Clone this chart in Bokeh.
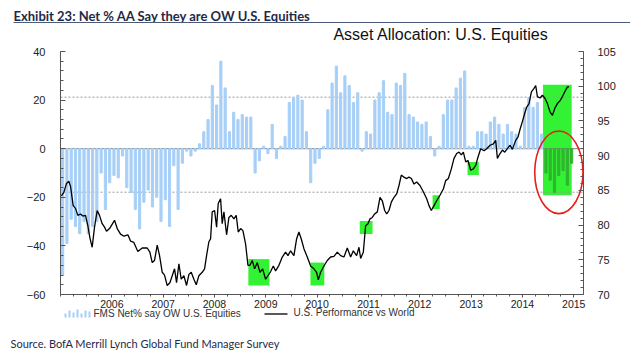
from bokeh.plotting import figure
from bokeh.models import (Range1d, LinearAxis, FixedTicker, ColumnDataSource,
                          Label, BoxAnnotation)
from bokeh.embed import file_html
from bokeh.resources import INLINE

# ---------------- data ----------------
START_YEAR = 2005
fms_net_ow = [
    -52, -39, -29, -32, -35, -30, -35, -32, -30, -10,
    -25, -14, -11, -12, -3, -16, -18, -25, -33, -22,
    -17, -24, -20, -30, -21, -32, -7, -25, -6, -1,
    -3, -1, 2, 7, 12, 26, 18, 36, 25, 7,
    15, 12, 14, 13, 13, -10, -5, 1, -2, 10,
    -4, 1, 5, 19, 21, 22, 20, 7, -14, -6,
    -4, 1, 16, 27, 34, 23, 30, 26, 19, 23,
    -1, 7, 6, 20, 23, 28, 15, 14, 27, 26,
    31, 14, 13, 11, 10, 11, 5, -3, 1, 14,
    20, 20, 25, 29, 32, 1, 1, 7, 7, 6,
    11, 13, 10, 6, 10, 7, 6, 1, 17, 21,
    17, 19, 6, -10, -13, -18, -11, -9, -15, -6,
]

perf_year = [
    2005.019, 2005.065, 2005.117, 2005.162, 2005.195, 2005.247, 2005.292, 2005.338, 2005.390, 2005.435,
    2005.487, 2005.533, 2005.572, 2005.617, 2005.663, 2005.715, 2005.760, 2005.812, 2005.858, 2005.897,
    2005.955, 2006.014, 2006.053, 2006.105, 2006.170, 2006.235, 2006.313, 2006.365, 2006.429, 2006.507,
    2006.592, 2006.689, 2006.741, 2006.787, 2006.832, 2006.884, 2006.930, 2006.982, 2007.027, 2007.079,
    2007.131, 2007.177, 2007.222, 2007.261, 2007.307, 2007.352, 2007.404, 2007.456, 2007.502, 2007.547,
    2007.599, 2007.645, 2007.696, 2007.761, 2007.807, 2007.846, 2007.891, 2007.924, 2007.956, 2008.002,
    2008.041, 2008.073, 2008.119, 2008.151, 2008.184, 2008.236, 2008.281, 2008.327, 2008.379, 2008.424,
    2008.463, 2008.509, 2008.554, 2008.606, 2008.652, 2008.691, 2008.736, 2008.782, 2008.834, 2008.886,
    2008.938, 2008.996, 2009.042, 2009.094, 2009.146, 2009.191, 2009.256, 2009.321, 2009.386, 2009.432,
    2009.483, 2009.548, 2009.600, 2009.645, 2009.691, 2009.743, 2009.808, 2009.873, 2009.938, 2009.990,
    2010.023, 2010.068, 2010.133, 2010.198, 2010.263, 2010.328, 2010.393, 2010.458, 2010.523, 2010.588,
    2010.653, 2010.705, 2010.770, 2010.815, 2010.848, 2010.900, 2010.945, 2010.991, 2011.030, 2011.075,
    2011.121, 2011.173, 2011.225, 2011.270, 2011.316, 2011.355, 2011.400, 2011.446, 2011.498, 2011.550,
    2011.595, 2011.640, 2011.692, 2011.745, 2011.790, 2011.836, 2011.888, 2011.940, 2012.004, 2012.069,
    2012.135, 2012.180, 2012.225, 2012.277, 2012.329, 2012.394, 2012.459, 2012.505, 2012.557, 2012.615,
    2012.667, 2012.719, 2012.765, 2012.810, 2012.849, 2012.895, 2012.940, 2012.992, 2013.044, 2013.090,
    2013.135, 2013.187, 2013.252, 2013.304, 2013.369, 2013.434, 2013.480, 2013.512, 2013.564, 2013.610,
    2013.655, 2013.707, 2013.759, 2013.804, 2013.869, 2013.915, 2013.954, 2013.999, 2014.045, 2014.084,
    2014.129, 2014.175, 2014.226, 2014.259, 2014.292, 2014.343, 2014.389, 2014.435, 2014.487, 2014.538,
    2014.584, 2014.630, 2014.681, 2014.733, 2014.779, 2014.825, 2014.877, 2014.909,
]
perf_value = [
    84.2, 84.7, 86.0, 86.3, 85.6, 82.8, 82.4, 81.4, 81.6, 81.3,
    81.4, 79.9, 78.2, 76.8, 79.7, 82.1, 81.4, 80.2, 79.7, 79.1,
    79.5, 80.2, 80.7, 79.5, 78.7, 78.4, 78.6, 77.7, 77.5, 76.2,
    76.7, 76.7, 76.1, 74.6, 74.9, 77.1, 75.6, 73.2, 72.8, 71.3,
    71.7, 72.7, 73.7, 71.7, 74.4, 72.2, 72.7, 71.3, 72.9, 73.2,
    72.2, 71.4, 72.7, 73.2, 73.7, 75.6, 77.6, 78.0, 81.9, 82.1,
    79.7, 83.1, 83.8, 80.2, 81.9, 78.6, 81.1, 81.4, 80.9, 81.4,
    79.0, 79.5, 79.2, 77.3, 74.2, 74.2, 74.9, 73.7, 74.6, 73.2,
    73.7, 72.2, 72.7, 73.3, 74.1, 73.4, 74.2, 75.4, 76.1, 75.6,
    76.3, 75.6, 78.0, 79.0, 78.0, 76.6, 75.4, 74.1, 73.7, 73.2,
    72.1, 73.2, 74.1, 74.9, 75.4, 75.5, 76.1, 75.6, 75.4, 76.7,
    75.4, 76.3, 75.6, 76.8, 75.2, 76.1, 79.9, 80.2, 80.9, 81.1,
    81.6, 81.9, 84.0, 83.5, 82.1, 81.6, 82.1, 83.3, 84.0, 84.5,
    85.7, 87.2, 86.9, 86.7, 86.9, 86.7, 85.9, 86.2, 85.7, 84.8,
    83.8, 82.8, 82.1, 82.8, 83.5, 84.3, 85.2, 86.4, 86.7, 88.1,
    89.6, 90.3, 90.5, 90.1, 90.5, 89.1, 89.3, 87.9, 88.1, 88.6,
    89.8, 91.0, 90.7, 91.0, 91.5, 91.7, 92.2, 89.6, 90.3, 90.8,
    90.5, 91.0, 91.5, 90.9, 92.2, 92.7, 93.8, 94.9, 96.1, 97.0,
    97.5, 99.2, 99.7, 100.1, 98.5, 98.3, 98.7, 98.3, 97.5, 96.3,
    95.8, 96.8, 97.5, 97.9, 98.5, 99.2, 99.9, 99.9,
]

# highlighted windows (x in years, y on right axis)
box_left = [2008.66, 2009.87, 2010.83, 2012.25, 2012.93, 2014.40]
box_right = [2009.07, 2010.14, 2011.08, 2012.39, 2013.15, 2014.96]
box_top = [75.1, 74.6, 80.6, 84.3, 89.1, 100.2]
box_bottom = [71.3, 71.3, 78.7, 82.3, 87.2, 84.3]

band_levels = [21.2, -17.9]
year_ticks = list(range(2006, 2016))
left_ticks = list(range(-60, 41, 20))
right_ticks = list(range(70, 106, 5))

TITLE = "Exhibit 23: Net % AA Say they are OW U.S. Equities"
SUBTITLE = "Asset Allocation: U.S. Equities"
SOURCE = "Source. BofA Merrill Lynch Global Fund Manager Survey"
BAR_LABEL = "FMS Net% say OW U.S. Equities"
LINE_LABEL = "U.S. Performance vs World"

# ---------------- geometry (one frame covering the whole canvas) ----------------
CW, CH = 630, 364
FL, FR, FT, FB = 60, 583, 51, 294          # plotting area in pixels
X0, X1 = 2005.0, 2015.19                     # x extent of the plotting area
L0, L1 = -60, 40                             # left axis extent
R0, R1 = 70, 105                             # right axis extent
PPY = (FR - FL) / (X1 - X0)


def X(px):
    return X0 + (px - FL) / PPY


def Y(py):
    return L1 - (py - FT) * (L1 - L0) / (FB - FT)


def YR(py):
    return R1 - (py - FT) * (R1 - R0) / (FB - FT)


AX = "#555555"
LBL = "#222222"
FONT = "Liberation Sans"
BLUE = "#a7cff7"
NAVY = "#1f2a48"

p = figure(width=CW, height=CH, output_backend="svg", toolbar_location=None, title=None,
           x_range=Range1d(X(0), X(CW)), y_range=Range1d(Y(CH), Y(0)),
           min_border_left=0, min_border_right=0, min_border_top=0, min_border_bottom=0)
p.extra_y_ranges = {"right": Range1d(YR(CH), YR(0))}
p.outline_line_color = None
p.xgrid.grid_line_color = None
p.ygrid.grid_line_color = None

# green highlight boxes
p.quad(left=box_left, right=box_right, top=box_top, bottom=box_bottom,
       y_range_name="right", fill_color="#33f233", line_color=None)

# reference lines across the plotting area
p.segment(x0=[X0], x1=[X1], y0=[0], y1=[0], line_color="#7f7f7f", line_width=1)
p.segment(x0=[X0] * len(band_levels), x1=[X1] * len(band_levels),
          y0=band_levels, y1=band_levels, line_color="#9a9a9a", line_width=1,
          line_dash="2 2")

# bars
bx = [START_YEAR + (i + 0.5) / 12 for i in range(len(fms_net_ow))]
bcol = ["#2fb52f" if box_left[-1] <= x <= box_right[-1] else BLUE for x in bx]
src = ColumnDataSource(dict(x=bx, top=fms_net_ow, color=bcol))
p.vbar(x="x", top="top", bottom=0, width=0.042, color="color", source=src)

# performance line
p.line(perf_year, perf_value, y_range_name="right", line_color="black", line_width=1.3)

# red ellipse
p.ellipse(x=[2014.71], y=[87.6], width=[0.94], height=[11.9], y_range_name="right",
          fill_color=None, line_color="#e3211c", line_width=1.6)

# ---------------- axes at fixed locations ----------------
la = p.yaxis[0]
la.fixed_location = X0
la.bounds = (L0, L1)
la.ticker = FixedTicker(ticks=left_ticks, minor_ticks=list(range(L0, L1 + 1, 4)))
ra = LinearAxis(y_range_name="right", fixed_location=X1, bounds=(R0, R1),
                ticker=FixedTicker(ticks=right_ticks, minor_ticks=list(range(R0, R1 + 1))))
p.add_layout(ra, "right")
for a in (la, ra):
    a.major_tick_in = 5
    a.major_tick_out = 0
    a.minor_tick_in = 3
    a.minor_tick_out = 0
    a.axis_line_color = AX
    a.major_tick_line_color = AX
    a.minor_tick_line_color = AX
    a.major_label_text_font = FONT
    a.major_label_text_font_size = "11px"
    a.major_label_text_color = LBL
la.major_label_standoff = 15
ra.major_label_standoff = 14

xa = p.xaxis[0]
xa.fixed_location = L0
xa.bounds = (X0, X1)
xa.ticker = FixedTicker(ticks=year_ticks,
                        minor_ticks=[X0 + q / 4 for q in range(0, 41)])
xa.major_tick_in = 0
xa.major_tick_out = 3
xa.minor_tick_in = 0
xa.minor_tick_out = 2
xa.axis_line_color = AX
xa.major_tick_line_color = AX
xa.minor_tick_line_color = AX
xa.major_label_text_font = FONT
xa.major_label_text_font_size = "10.5px"
xa.major_label_text_color = LBL
xa.major_label_standoff = 2

# ---------------- header ----------------
p.add_layout(Label(x=X(13), y=Y(15.5), text=TITLE, text_baseline="middle",
                   text_font="Lato", text_font_style="bold", text_font_size="13px",
                   text_color=NAVY))
p.add_layout(BoxAnnotation(left=X(13), right=X(CW), top=Y(21.5), bottom=Y(22.5),
                           fill_color="#4a5a7a", fill_alpha=1, line_color=None))
p.add_layout(Label(x=X(440.5), y=Y(34), text=SUBTITLE, text_baseline="middle",
                   text_align="center", text_font=FONT, text_font_size="16px",
                   text_color="#111111"))

# ---------------- legend (drawn) ----------------
key_h = [4, 7, 5, 8, 4, 7, 6]
p.quad(left=[X(64 + 4 * k) for k in range(len(key_h))],
       right=[X(66 + 4 * k) for k in range(len(key_h))],
       bottom=[Y(317)] * len(key_h), top=[Y(317 - h) for h in key_h],
       fill_color=BLUE, line_color=None)
p.add_layout(Label(x=X(93), y=Y(312.5), text=BAR_LABEL, text_baseline="middle",
                   text_font=FONT, text_font_size="10px", text_color="#333333"))
p.segment(x0=[X(264)], x1=[X(287)], y0=[Y(313.5)], y1=[Y(313.5)],
          line_color="black", line_width=1.3)
p.add_layout(Label(x=X(293), y=Y(312), text=LINE_LABEL, text_baseline="middle",
                   text_font=FONT, text_font_size="10px", text_color="#333333"))

# ---------------- footer ----------------
p.add_layout(Label(x=X(10), y=Y(343), text=SOURCE, text_baseline="middle",
                   text_font="Lato", text_font_size="11px", text_color=NAVY))

open("out.html", "w").write(file_html(p, INLINE))
